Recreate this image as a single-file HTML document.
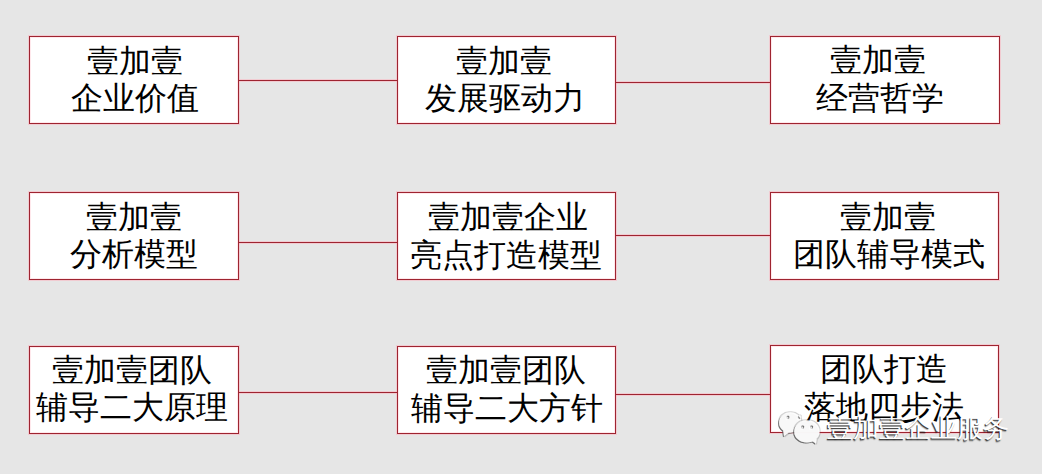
<!DOCTYPE html>
<html><head><meta charset="utf-8"><style>
html,body{margin:0;padding:0;}
body{width:1042px;height:474px;background:#e6e6e6;position:relative;overflow:hidden;font-family:"Liberation Sans",sans-serif;}
.b{position:absolute;box-sizing:border-box;border:1px solid #9e2430;background:#fff;box-shadow:0 0 0 1px rgba(255,170,185,.45),inset 0 0 0 1px rgba(255,190,200,.35);}
.l{position:absolute;height:1px;background:#9e2430;box-shadow:0 1px 0 rgba(255,170,185,.45),0 -1px 0 rgba(255,170,185,.45);}
.t{position:absolute;font-size:32px;line-height:40px;white-space:nowrap;color:#000;}
.wm{position:absolute;font-size:26px;line-height:30px;white-space:nowrap;color:#fff;text-shadow:-1px 1px 0 rgba(30,30,30,.8),-1.5px 1.5px 1px rgba(0,0,0,.35);}
</style></head><body>

<div class="b" style="left:29px;top:36px;width:210px;height:88px"></div>
<div class="b" style="left:397px;top:36px;width:219px;height:88px"></div>
<div class="b" style="left:770px;top:36px;width:230px;height:88px"></div>
<div class="b" style="left:29px;top:192px;width:210px;height:88px"></div>
<div class="b" style="left:397px;top:192px;width:219px;height:88px"></div>
<div class="b" style="left:770px;top:192px;width:229px;height:88px"></div>
<div class="b" style="left:29px;top:346px;width:210px;height:88px"></div>
<div class="b" style="left:397px;top:346px;width:219px;height:88px"></div>
<div class="b" style="left:770px;top:345px;width:229px;height:88px"></div>
<div class="l" style="left:239px;top:80px;width:158px"></div>
<div class="l" style="left:616px;top:82px;width:154px"></div>
<div class="l" style="left:239px;top:242px;width:158px"></div>
<div class="l" style="left:616px;top:235px;width:154px"></div>
<div class="l" style="left:239px;top:392px;width:158px"></div>
<div class="l" style="left:616px;top:394px;width:154px"></div>
<div class="t" style="left:87px;top:41px">壹加壹</div>
<div class="t" style="left:71px;top:78px">企业价值</div>
<div class="t" style="left:456px;top:41px">壹加壹</div>
<div class="t" style="left:425px;top:78px">发展驱动力</div>
<div class="t" style="left:830px;top:40px">壹加壹</div>
<div class="t" style="left:816px;top:78px">经营哲学</div>
<div class="t" style="left:86px;top:197px">壹加壹</div>
<div class="t" style="left:70px;top:234px">分析模型</div>
<div class="t" style="left:428px;top:197px">壹加壹企业</div>
<div class="t" style="left:410px;top:235px">亮点打造模型</div>
<div class="t" style="left:840px;top:197px">壹加壹</div>
<div class="t" style="left:793px;top:234px">团队辅导模式</div>
<div class="t" style="left:52px;top:350px">壹加壹团队</div>
<div class="t" style="left:36px;top:387px">辅导二大原理</div>
<div class="t" style="left:426px;top:350px">壹加壹团队</div>
<div class="t" style="left:411px;top:388px">辅导二大方针</div>
<div class="t" style="left:820px;top:349px">团队打造</div>
<div class="t" style="left:804px;top:387px">落地四步法</div>
<svg style="position:absolute;left:770px;top:405px;overflow:visible" width="60" height="45" viewBox="770 405 60 45">
<defs><filter id="sh" x="-20%" y="-20%" width="140%" height="140%"><feMorphology in="SourceAlpha" operator="dilate" radius="0.5" result="d"/><feFlood flood-color="#606060" flood-opacity="0.3"/><feComposite in2="d" operator="in" result="g"/><feOffset in="SourceAlpha" dx="-1" dy="1" result="o"/><feFlood flood-color="#505050" flood-opacity="0.8"/><feComposite in2="o" operator="in" result="s"/><feMerge><feMergeNode in="g"/><feMergeNode in="s"/><feMergeNode in="SourceGraphic"/></feMerge></filter></defs>
<path filter="url(#sh)" fill="#fff" fill-opacity=".92" d="M779.1 422.5 A11.2 10.3 0 1 1 801.5 422.5 A11.2 10.3 0 1 1 779.1 422.5 Z M783 429 L789 432.6 L784 436.2 Z M786.3 417.6 A1.6 1.6 0 1 0 789.5 417.6 A1.6 1.6 0 1 0 786.5 417.6 Z M797.6 417.6 A1.6 1.6 0 1 0 800.8 417.6 A1.6 1.6 0 1 0 797.8 417.6 Z"/>
<path filter="url(#sh)" fill="#fff" fill-opacity=".92" d="M794.2 431.4 A12.7 11.2 0 1 1 819.6 431.4 A12.7 11.2 0 1 1 794.2 431.4 Z M811.5 440.5 L817 436.5 L816 443.8 Z M801 427.3 A1.6 1.6 0 1 0 804.2 427.3 A1.6 1.6 0 1 0 801.2 427.3 Z M809.9 427.3 A1.6 1.6 0 1 0 813.1 427.3 A1.6 1.6 0 1 0 810.1 427.3 Z"/>
</svg>
<div class="wm" style="left:827px;top:413px">壹加壹企业服务</div>

</body></html>
